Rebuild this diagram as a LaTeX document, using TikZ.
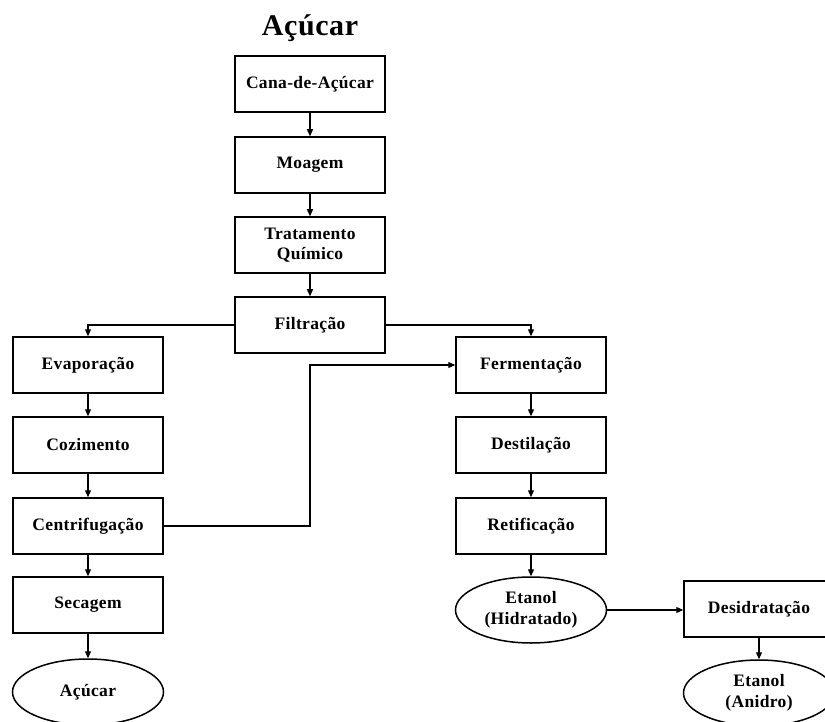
\documentclass[tikz,border=0pt]{standalone}
\usepackage{fontspec}
\setmainfont{Liberation Serif}[LetterSpace=2]
\usetikzlibrary{shapes.geometric,arrows.meta}
\tikzset{
  stepbox/.style={draw, line width=1.5pt, minimum width=150pt, minimum height=56pt, inner sep=0pt, align=center, font=\bfseries\fontsize{17.5}{20.5}\selectfont},
  endoval/.style={draw, ellipse, line width=1.5pt, minimum width=151pt, minimum height=66pt, inner sep=0pt, align=center, font=\bfseries\fontsize{17.5}{20.5}\selectfont},
  arr/.style={line width=1.2pt, -{Triangle[length=7pt,width=6pt]}},
  titletext/.style={font=\bfseries\fontsize{30}{34}\selectfont, inner sep=0pt}
}
\begin{document}
\begin{tikzpicture}[x=1pt,y=-1pt]
\useasboundingbox (0,0) rectangle (825,722);
\node[titletext] (title) at (310,28) {Açúcar};
% top column
\node[stepbox] (cana) at (310,84) {Cana-de-Açúcar};
\node[stepbox] (moag) at (310,165) {Moagem};
\node[stepbox] (trat) at (310,245) {Tratamento\\Químico};
\node[stepbox] (filt) at (310,325) {Filtração};
% left column
\node[stepbox] (evap) at (88,365) {Evaporação};
\node[stepbox] (coz) at (88,445) {Cozimento};
\node[stepbox] (centr) at (88,526) {Centrifugação};
\node[stepbox] (sec) at (88,605) {Secagem};
\node[endoval] (acu) at (88,692) {Açúcar};
% right column
\node[stepbox] (ferm) at (531,365) {Fermentação};
\node[stepbox] (dest) at (531,445) {Destilação};
\node[stepbox] (ret) at (531,526) {Retificação};
\node[endoval] (hid) at (531,610) {Etanol\\(Hidratado)};
\node[stepbox] (des) at (759,609) {Desidratação};
\node[endoval] (ani) at (759,693) {Etanol\\(Anidro)};
% connectors
\draw[arr] (cana) -- (moag);
\draw[arr] (moag) -- (trat);
\draw[arr] (trat) -- (filt);
\draw[arr] (filt.west) -| (evap.north);
\draw[arr] (filt.east) -| (ferm.north);
\draw[arr] (evap) -- (coz);
\draw[arr] (coz) -- (centr);
\draw[arr] (centr) -- (sec);
\draw[arr] (sec) -- (acu);
\draw[arr] (centr.east) -| (filt.south |- ferm.west) -- (ferm.west);
\draw[arr] (ferm) -- (dest);
\draw[arr] (dest) -- (ret);
\draw[arr] (ret) -- (hid);
\draw[arr] (hid.east) -- (hid.east -| des.west);
\draw[arr] (des) -- (ani);
\end{tikzpicture}
\end{document}
